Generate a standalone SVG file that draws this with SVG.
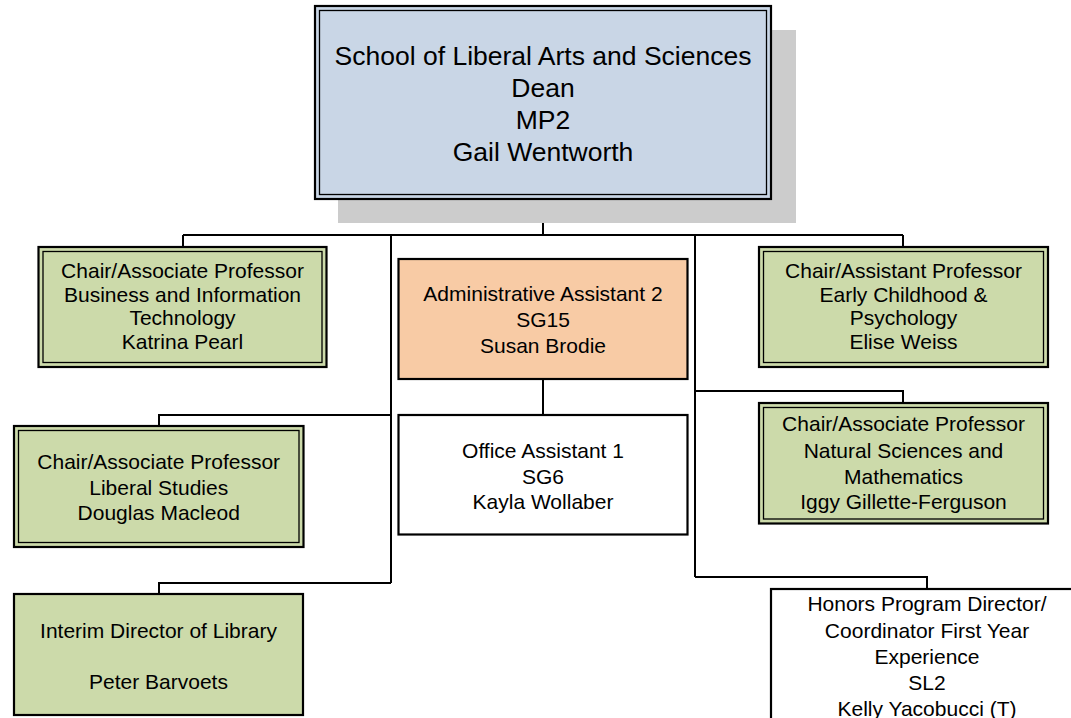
<svg xmlns="http://www.w3.org/2000/svg" width="1071" height="718" viewBox="0 0 1071 718">
<style>
.o{stroke:#000;stroke-width:2.2}
.i{fill:none;stroke:#000;stroke-width:1.3}
.g{fill:#CCDAAA}
.b{fill:#C9D6E6}
.or{fill:#F8CBA5}
.w{fill:#fff}
.c{fill:none;stroke:#000;stroke-width:2}
text{font-family:"Liberation Sans",Arial,sans-serif;font-size:21px;fill:#000;text-anchor:middle}
.t{font-size:26.5px}
</style>
<rect width="1071" height="718" fill="#fff"/>
<g id="connectors">
<path class="c" d="M543 199V235M183 235H903M183 235V247M903 235V247M391 235V583M391 415H159V426M391 583H159V594M695 235V577M695 391H903V403M695 577H927V589M543 379V415"/>
</g>
<g id="dean">
<rect x="338" y="30" width="458" height="193" fill="#CCCCCC"/>
<rect class="o b" x="315" y="6" width="456" height="193"/>
<rect class="i" x="319.5" y="10.5" width="447" height="184"/>
<text class="t" x="543" y="65">School of Liberal Arts and Sciences</text>
<text class="t" x="543" y="97">Dean</text>
<text class="t" x="543" y="129">MP2</text>
<text class="t" x="543" y="161">Gail Wentworth</text>
</g>
<g id="bit">
<rect class="o g" x="38.5" y="247" width="288" height="120"/>
<rect class="i" x="43" y="251.5" width="279" height="111"/>
<text x="182.5" y="277.5">Chair/Associate Professor</text>
<text x="182.5" y="301.5">Business and Information</text>
<text x="182.5" y="325">Technology</text>
<text x="182.5" y="349">Katrina Pearl</text>
</g>
<g id="admin">
<rect class="o or" x="398.5" y="259" width="289" height="120"/>
<text x="543" y="301">Administrative Assistant 2</text>
<text x="543" y="327">SG15</text>
<text x="543" y="352.5">Susan Brodie</text>
</g>
<g id="ecp">
<rect class="o g" x="759" y="247" width="289" height="120"/>
<rect class="i" x="763.5" y="251.5" width="280" height="111"/>
<text x="903.5" y="277.5">Chair/Assistant Professor</text>
<text x="903.5" y="301.5">Early Childhood &amp;</text>
<text x="903.5" y="325">Psychology</text>
<text x="903.5" y="349">Elise Weiss</text>
</g>
<g id="office">
<rect class="o w" x="398.5" y="415" width="289" height="119.5"/>
<text x="543" y="457.5">Office Assistant 1</text>
<text x="543" y="483.5">SG6</text>
<text x="543" y="508.5">Kayla Wollaber</text>
</g>
<g id="liberal">
<rect class="o g" x="14" y="426" width="289.5" height="121"/>
<rect class="i" x="18.5" y="430.5" width="280.5" height="112"/>
<text x="158.7" y="469">Chair/Associate Professor</text>
<text x="158.7" y="495">Liberal Studies</text>
<text x="158.7" y="520">Douglas Macleod</text>
</g>
<g id="natsci">
<rect class="o g" x="759" y="403" width="289" height="120.5"/>
<rect class="i" x="763.5" y="407.5" width="280" height="111.5"/>
<text x="903.5" y="431">Chair/Associate Professor</text>
<text x="903.5" y="457.5">Natural Sciences and</text>
<text x="903.5" y="483.5">Mathematics</text>
<text x="903.5" y="509">Iggy Gillette-Ferguson</text>
</g>
<g id="library">
<rect class="o g" x="14" y="594" width="289" height="121"/>
<text x="158.5" y="638">Interim Director of Library</text>
<text x="158.5" y="689">Peter Barvoets</text>
</g>
<g id="honors">
<rect class="o w" x="771" y="589" width="330" height="150"/>
<text x="927" y="611">Honors Program Director/</text>
<text x="927" y="637.5">Coordinator First Year</text>
<text x="927" y="664">Experience</text>
<text x="927" y="690">SL2</text>
<text x="927" y="716">Kelly Yacobucci (T)</text>
</g>
</svg>
